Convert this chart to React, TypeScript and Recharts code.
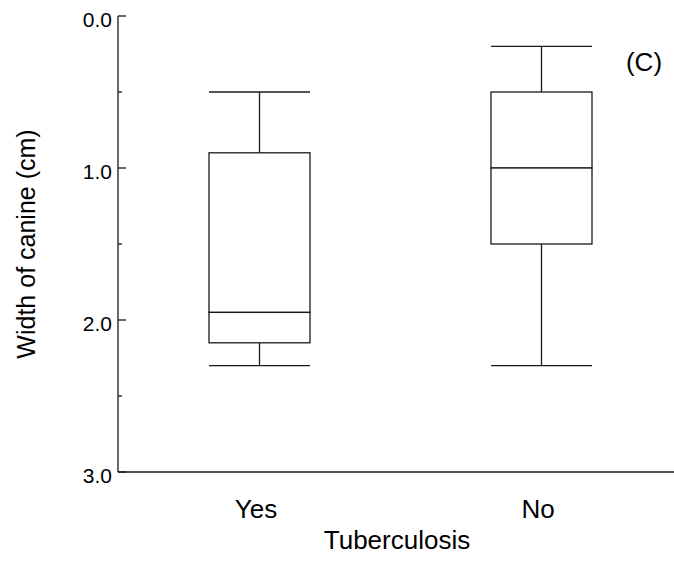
import { Bar, ComposedChart, XAxis, YAxis } from "recharts";

// box plot values (y axis runs downward)
const groups = ["Yes", "No"];
const whiskerTop = [0.5, 0.2];
const boxTop = [0.9, 0.5];
const medians = [1.95, 1.0];
const boxBottom = [2.15, 1.5];
const whiskerBottom = [2.3, 2.3];

const yTicks = [0, 0.5, 1, 1.5, 2, 2.5, 3];

const FONT = "'Liberation Sans', Arial, Helvetica, sans-serif";
const INK = "#1a1a1a";
const BOX_W = 101;

const rows = groups.map((g, i) => ({
  group: g,
  whisker: [whiskerTop[i], whiskerBottom[i]],
  upperBox: [boxTop[i], medians[i]],
  lowerBox: [medians[i], boxBottom[i]],
}));

function WhiskerShape(props: any) {
  const { x, y, width, height } = props;
  const top = Math.min(y, y + height);
  const bottom = Math.max(y, y + height);
  const cx = x + width / 2;
  return (
    <g stroke={INK} strokeWidth={1.3}>
      <line x1={cx} x2={cx} y1={top} y2={bottom} />
      <line x1={x} x2={x + width} y1={top} y2={top} />
      <line x1={x} x2={x + width} y1={bottom} y2={bottom} />
    </g>
  );
}

function BoxShape(props: any) {
  const { x, y, width, height } = props;
  const top = Math.min(y, y + height);
  return (
    <rect
      x={x}
      y={top}
      width={width}
      height={Math.abs(height)}
      fill="#fff"
      stroke={INK}
      strokeWidth={1.3}
    />
  );
}

const TICK_MARGIN = 6;

function YTick(props: any) {
  const { x, y, payload } = props;
  const v = payload.value as number;
  const major = Number.isInteger(v);
  const axisX = x + TICK_MARGIN;
  return (
    <g>
      <line x1={axisX} x2={axisX + (major ? 8 : 4)} y1={y} y2={y} stroke={INK} strokeWidth={1.3} />
      {major && (
        <text
          x={x}
          y={y}
          dy={3}
          textAnchor="end"
          dominantBaseline="central"
          fontSize={21}
          fontFamily={FONT}
          fill="#000"
        >
          {v.toFixed(1)}
        </text>
      )}
    </g>
  );
}

export default function App() {
  return (
    <div
      style={{
        position: "absolute",
        left: 0,
        top: 0,
        width: 674,
        height: 566,
        overflow: "hidden",
        background: "#fff",
      }}
    >
      <ComposedChart
        width={690}
        height={566}
        data={rows}
        margin={{ top: 16, right: 8, bottom: 34, left: 0 }}
      >
        <XAxis
          dataKey="group"
          xAxisId="bottom"
          height={60}
          tickSize={0}
          tickMargin={28}
          tickLine={false}
          axisLine={{ stroke: INK, strokeWidth: 1.3 }}
          tick={{ fontSize: 26, fill: "#000", fontFamily: FONT, dx: -3 }}
        />
        <XAxis
          dataKey="group"
          xAxisId="top"
          orientation="top"
          height={0}
          tick={false}
          tickLine={false}
          axisLine={{ stroke: INK, strokeWidth: 1.3 }}
        />
        <XAxis dataKey="group" xAxisId="inner" hide />
        <YAxis
          type="number"
          domain={[0, 3]}
          reversed
          ticks={yTicks}
          interval={0}
          width={118}
          tickSize={0}
          tickMargin={TICK_MARGIN}
          tickLine={false}
          axisLine={{ stroke: INK, strokeWidth: 1.3 }}
          tick={<YTick />}
        />
        <Bar
          dataKey="whisker"
          xAxisId="top"
          barSize={BOX_W}
          shape={<WhiskerShape />}
          isAnimationActive={false}
        />
        <Bar
          dataKey="upperBox"
          xAxisId="inner"
          barSize={BOX_W}
          shape={<BoxShape />}
          isAnimationActive={false}
        />
        <Bar
          dataKey="lowerBox"
          xAxisId="bottom"
          barSize={BOX_W}
          shape={<BoxShape />}
          isAnimationActive={false}
        />
        <text
          x={26}
          y={244}
          transform="rotate(-90 26 244)"
          textAnchor="middle"
          dominantBaseline="central"
          fontSize={25}
          fontFamily={FONT}
          fill="#000"
        >
          Width of canine (cm)
        </text>
        <text x={397} y={549} textAnchor="middle" fontSize={26} fontFamily={FONT} fill="#000">
          Tuberculosis
        </text>
        <text x={644} y={71} textAnchor="middle" fontSize={26} fontFamily={FONT} fill="#000">
          (C)
        </text>
      </ComposedChart>
    </div>
  );
}
